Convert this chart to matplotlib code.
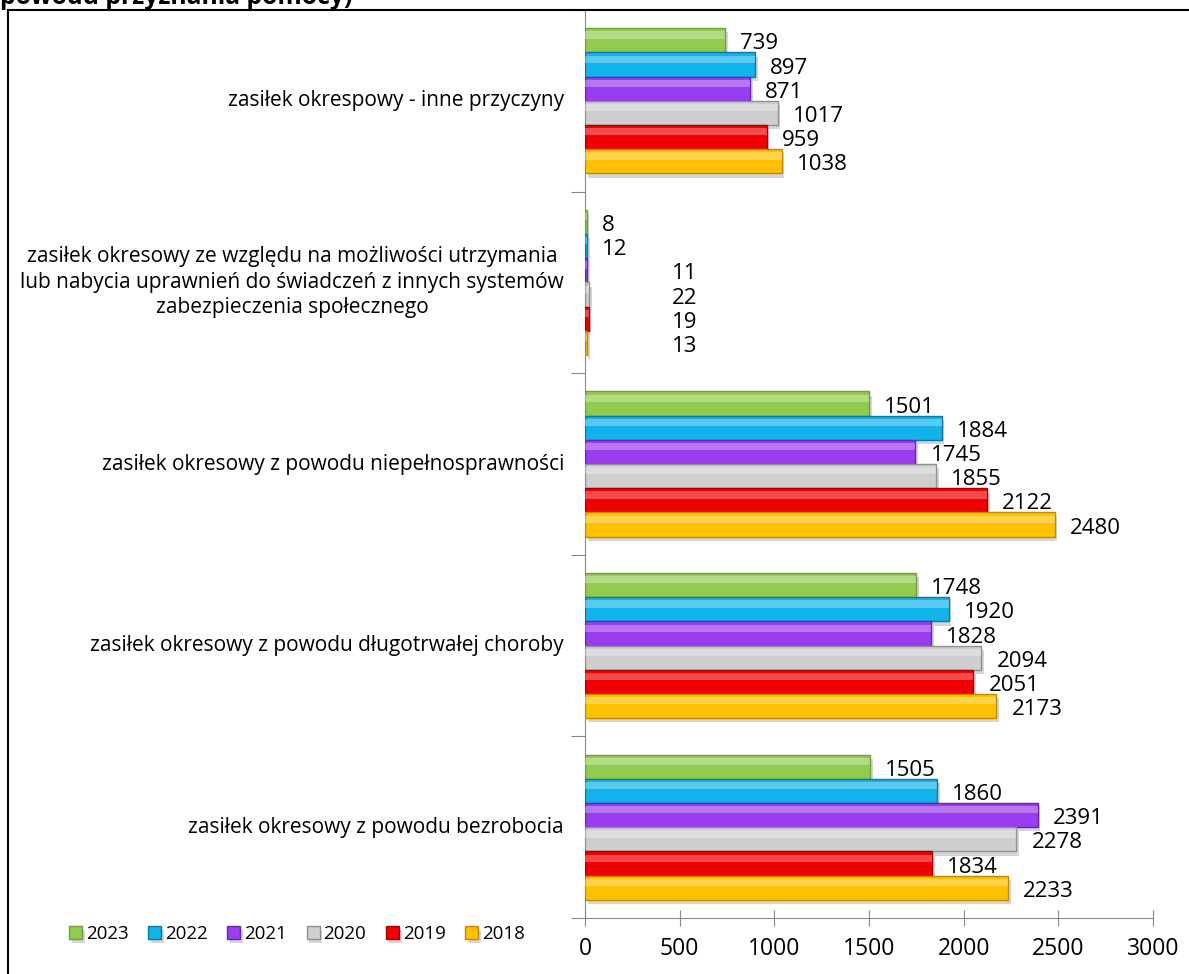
import matplotlib.pyplot as plt
import matplotlib.patches as p
import matplotlib.patheffects as pe
import numpy as np

categories = [
    "zasiłek okresowy z powodu bezrobocia",
    "zasiłek okresowy z powodu długotrwałej choroby",
    "zasiłek okresowy z powodu niepełnosprawności",
    "zasiłek okresowy ze względu na możliwości utrzymania\nlub nabycia uprawnień do świadczeń z innych systemów\nzabezpieczenia społecznego",
    "zasiłek okrespowy - inne przyczyny",
]
years = ["2023", "2022", "2021", "2020", "2019", "2018"]
values = {
    "2023": [1505, 1748, 1501, 8, 739],
    "2022": [1860, 1920, 1884, 12, 897],
    "2021": [2391, 1828, 1745, 11, 871],
    "2020": [2278, 2094, 1855, 22, 1017],
    "2019": [1834, 2051, 2122, 19, 959],
    "2018": [2233, 2173, 2480, 13, 1038],
}
colors = {
    "2023": "#92cc4e",
    "2022": "#12b2ea",
    "2021": "#9a3cf2",
    "2020": "#cfcfcf",
    "2019": "#f00000",
    "2018": "#ffc000",
}
edges = {
    "2023": "#6f9e3a",
    "2022": "#0b7aa3",
    "2021": "#6a22b0",
    "2020": "#8f8f8f",
    "2019": "#a80000",
    "2018": "#c08a00",
}

plt.rcParams['font.family'] = ['Open Sans', 'DejaVu Sans']

fig = plt.figure(figsize=(11.89, 9.74), dpi=100)
ax = fig.add_axes([585/1189, 1-918/974, (1153-585)/1189, (918-10)/974])

y = np.arange(len(categories))
h = 0.8 / len(years)
shadow = [pe.SimplePatchShadow(offset=(2, -3), shadow_rgbFace='#888888', alpha=0.35),
          pe.Normal()]

for i, yr in enumerate(years):
    pos = y + (2.5 - i) * h
    bars = ax.barh(pos, values[yr], height=h, color=colors[yr], edgecolor=edges[yr],
                   linewidth=1, label=yr, zorder=3)
    for b in bars:
        b.set_path_effects(shadow)
    # bevel highlight on the upper part of each bar
    ax.barh(pos + h * 0.22, values[yr], height=h * 0.3, color='white', alpha=0.3,
            linewidth=0, zorder=4)
    for j, v in enumerate(values[yr]):
        x = v + 80
        if j == 3 and i >= 2:
            x = 460  # labels moved aside in the original
        ax.text(x, pos[j] - 0.02, str(v), ha='left', va='center', fontsize=16,
                zorder=5)

ax.set_xlim(0, 3000)
ax.set_ylim(-0.5, len(categories) - 0.5)
ax.set_xticks(range(0, 3001, 500))
ax.set_yticks(np.arange(-0.5, len(categories), 1))
ax.set_yticklabels([])
ax.tick_params(axis='x', direction='inout', length=12, color='#888888',
               labelsize=16.5, pad=8)
ax.tick_params(axis='y', direction='out', length=10, color='#888888')
for s in ['top', 'right']:
    ax.spines[s].set_visible(False)
for s in ['left', 'bottom']:
    ax.spines[s].set_color('#888888')

for j, c in enumerate(categories):
    ax.text(-0.037, (y[j] + 0.5) / len(categories), c, transform=ax.transAxes,
            ha='right', va='center', multialignment='center', fontsize=15,
            linespacing=1.28)

ax.legend(loc='lower left', bbox_to_anchor=(52/1189, 14/974),
          bbox_transform=fig.transFigure, ncol=6, frameon=False, fontsize=13.5,
          handlelength=0.7, handleheight=0.7, handletextpad=0.2,
          columnspacing=1.05)

fig.add_artist(p.Rectangle((8/1189, -0.01), 1.0, 1 - 10/974 + 0.01,
                           transform=fig.transFigure, fill=False,
                           edgecolor='black', linewidth=1.5))
fig.text(0.0, 1 - 4/974, "powodu przyznania pomocy)", fontsize=17.8,
         fontweight='bold', va='baseline', ha='left')

fig.savefig("out.png", dpi=100)
